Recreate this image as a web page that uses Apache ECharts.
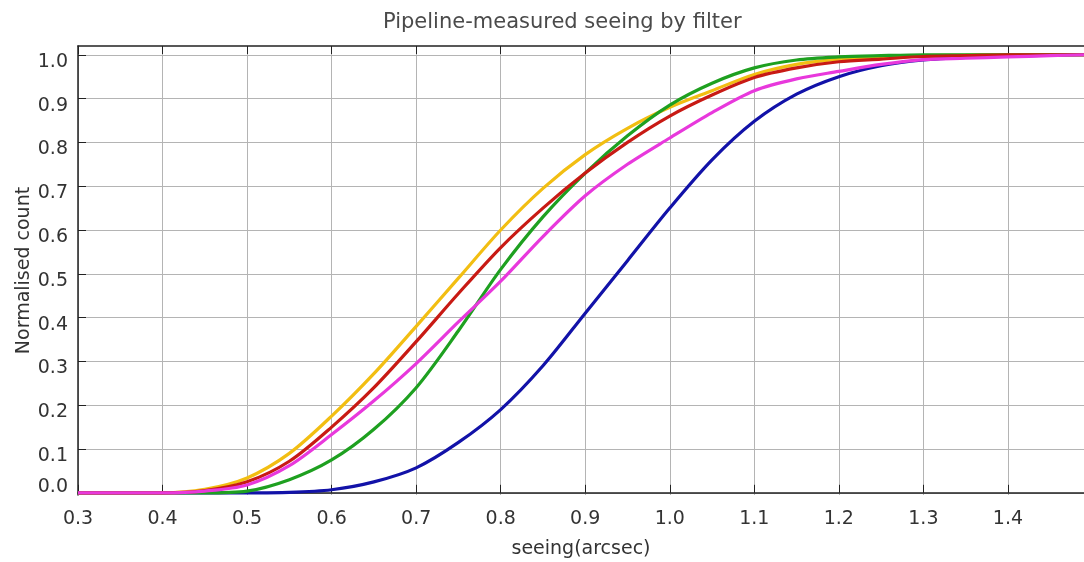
<!DOCTYPE html>
<html>
<head>
<meta charset="utf-8">
<script src="https://cdn.jsdelivr.net/npm/echarts@6/dist/echarts.min.js"></script>
<style>
  html, body { margin: 0; padding: 0; background: #fff; }
  #chart { width: 1084px; height: 562px; }
</style>
</head>
<body>
<div id="chart"></div>
<script>
// seeing (arcsec) sample points
var seeing = [0.30, 0.35, 0.40, 0.45, 0.50, 0.55, 0.60, 0.65, 0.70, 0.75, 0.80, 0.85, 0.90, 0.95,
              1.00, 1.05, 1.10, 1.15, 1.20, 1.25, 1.30, 1.35, 1.40, 1.45, 1.49];

// normalised cumulative count per filter
var blueVals    = [0, 0, 0, 0, 0, 0.001, 0.007, 0.025, 0.057, 0.115, 0.19, 0.29, 0.41, 0.53,
                   0.65, 0.76, 0.848, 0.91, 0.95, 0.975, 0.988, 0.994, 0.997, 0.999, 1.0];
var yellowVals  = [0, 0, 0, 0.008, 0.034, 0.09, 0.175, 0.272, 0.38, 0.49, 0.60, 0.695, 0.772, 0.832,
                   0.88, 0.918, 0.955, 0.978, 0.99, 0.995, 0.998, 0.999, 1.0, 1.0, 1.0];
var greenVals   = [0, 0, 0, 0, 0.004, 0.03, 0.075, 0.145, 0.24, 0.37, 0.51, 0.63, 0.73, 0.815,
                   0.885, 0.935, 0.97, 0.988, 0.995, 0.998, 1.0, 1.0, 1.0, 1.0, 1.0];
var redVals     = [0, 0, 0, 0.005, 0.025, 0.072, 0.15, 0.24, 0.345, 0.455, 0.56, 0.65, 0.73, 0.80,
                   0.86, 0.908, 0.948, 0.97, 0.984, 0.99, 0.996, 0.998, 1.0, 1.0, 1.0];
var magentaVals = [0, 0, 0, 0.004, 0.018, 0.062, 0.133, 0.21, 0.295, 0.39, 0.483, 0.585, 0.678, 0.75,
                   0.81, 0.868, 0.918, 0.945, 0.962, 0.978, 0.989, 0.992, 0.995, 0.998, 1.0];

// y tick values
var yTicks = [0, 0.1, 0.2, 0.3, 0.4, 0.5, 0.6, 0.7, 0.8, 0.9, 1.0];

var seriesNames  = ['blue', 'yellow', 'green', 'red', 'magenta'];
var seriesValues = [blueVals, yellowVals, greenVals, redVals, magentaVals];
var seriesColors = ['#1212a8', '#f2be12', '#1ea020', '#c81a14', '#e838dc'];

function pairs(vals) {
    var out = [];
    for (var i = 0; i < seeing.length; i++) {
        out.push([seeing[i], vals[i]]);
    }
    return out;
}

var font = 'DejaVu Sans';
var isTenth = function (v) {
    return Math.abs(v * 10 - Math.round(v * 10)) < 1e-6;
};

var series = [];
for (var k = 0; k < seriesNames.length; k++) {
    series.push({
        name: seriesNames[k],
        type: 'line',
        data: pairs(seriesValues[k]),
        smooth: 0.3,
        showSymbol: false,
        lineStyle: { color: seriesColors[k], width: 3.2 },
        itemStyle: { color: seriesColors[k] },
        animation: false
    });
}

var chart = echarts.init(document.getElementById('chart'));
chart.setOption({
    backgroundColor: '#fff',
    title: {
        text: 'Pipeline-measured seeing by filter',
        left: 378,
        top: 7,
        textStyle: { fontFamily: font, fontSize: 21, fontWeight: 'normal', color: '#4a4a4a' }
    },
    grid: { left: 78, right: 0, top: 46, bottom: 67, outerBoundsMode: 'none' },
    xAxis: [{
        type: 'value',
        min: 0.3,
        max: 1.49,
        interval: 0.1,
        name: 'seeing(arcsec)',
        nameLocation: 'middle',
        nameGap: 45,
        nameMoveOverlap: false,
        nameTextStyle: { fontFamily: font, fontSize: 19, color: '#333' },
        axisLine: { lineStyle: { color: '#222', width: 1.5 } },
        axisTick: { inside: true, length: 8, lineStyle: { color: '#222' } },
        axisLabel: {
            margin: 15,
            fontFamily: font, fontSize: 19, color: '#333',
            formatter: function (v) { return isTenth(v) ? v.toFixed(1) : ''; }
        },
        splitLine: { show: true, lineStyle: { color: '#b4b4b4', width: 1 } }
    }, {
        type: 'value',
        position: 'top',
        min: 0.3,
        max: 1.49,
        interval: 0.1,
        axisLine: { show: true, lineStyle: { color: '#222', width: 1.5 } },
        axisTick: { show: true, inside: true, length: 8, lineStyle: { color: '#222' } },
        axisLabel: { show: false },
        splitLine: { show: false }
    }],
    yAxis: {
        type: 'value',
        min: -0.005,
        max: 1.02,
        name: 'Normalised count',
        nameLocation: 'middle',
        nameGap: 44,
        nameMoveOverlap: false,
        nameTextStyle: { fontFamily: font, fontSize: 19, color: '#333' },
        axisLine: { show: true, lineStyle: { color: '#222', width: 1.5 } },
        axisTick: { show: true, inside: true, length: 8, customValues: yTicks,
                    lineStyle: { color: '#222' } },
        axisLabel: {
            margin: 10,
            customValues: yTicks,
            formatter: function (v) {
                if (Math.abs(v) < 1e-6) return '{z|0.0}';
                return '{d|' + v.toFixed(1) + '}';
            },
            rich: {
                d: { fontFamily: font, fontSize: 19, color: '#333', padding: [14, 0, 0, 0] },
                z: { fontFamily: font, fontSize: 19, color: '#333', padding: [0, 0, 12, 0] }
            }
        },
        splitLine: { show: true, lineStyle: { color: '#b4b4b4', width: 1 } }
    },
    series: series
});
</script>
</body>
</html>
